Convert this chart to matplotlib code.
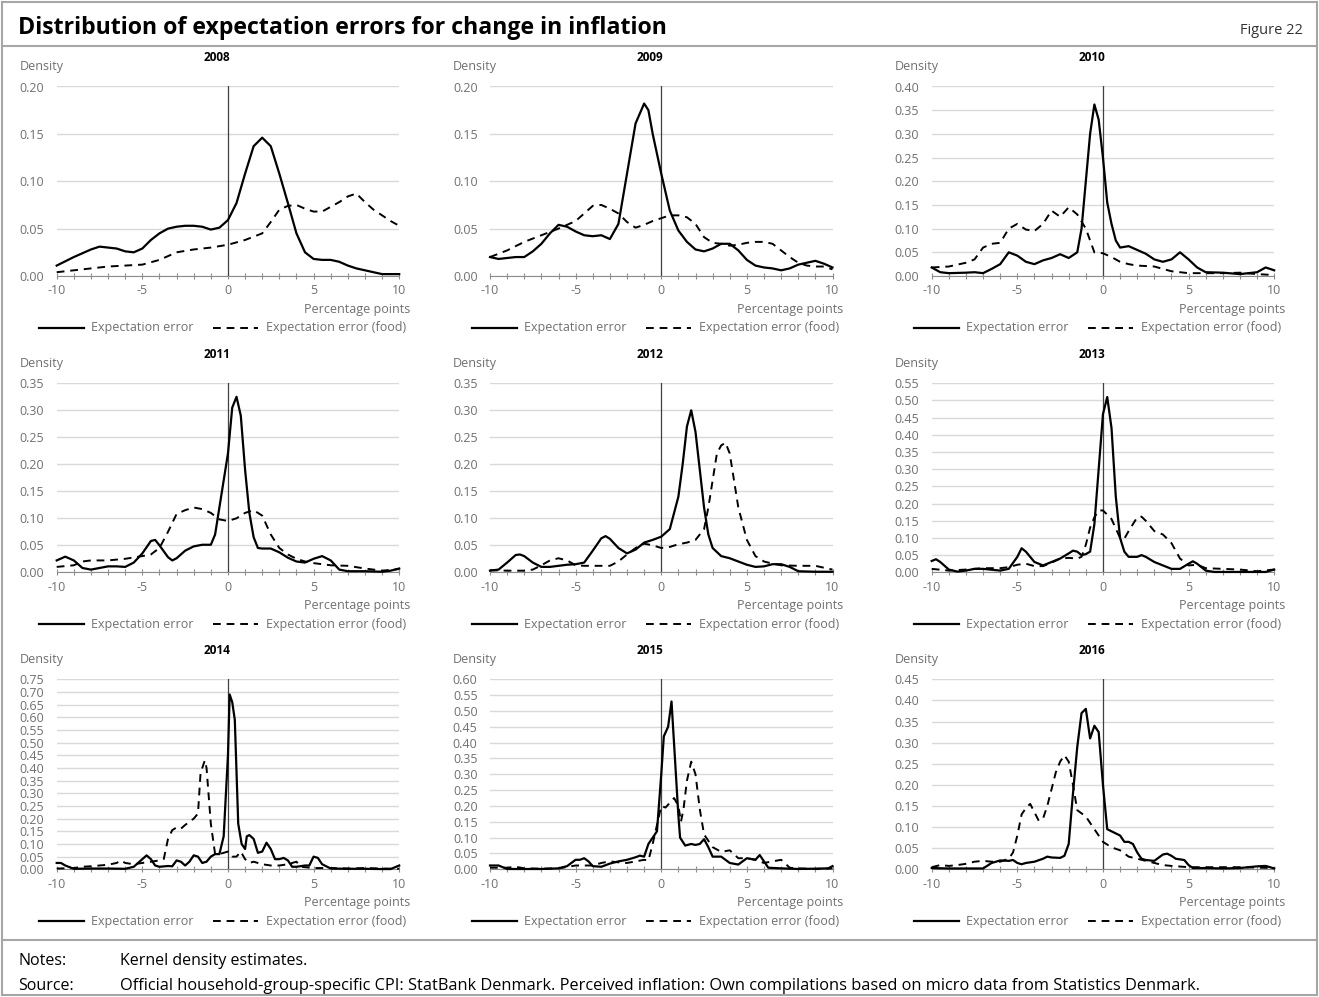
import numpy as np
import matplotlib
matplotlib.use("Agg")
import matplotlib.pyplot as plt
from matplotlib.lines import Line2D

plt.rcParams['font.family'] = ['Open Sans', 'DejaVu Sans']

years = ["2008", "2009", "2010", "2011", "2012", "2013", "2014", "2015", "2016"]
y_tops = [0.20, 0.20, 0.40, 0.35, 0.35, 0.55, 0.75, 0.60, 0.45]
x_ticks = [-10, -5, 0, 5, 10]

# 2008
err_2008_x = [-10, -9, -8, -7.5, -7, -6.5, -6, -5.5, -5, -4.5, -4, -3.5, -3, -2.5, -2, -1.5, -1, -0.5, 0, 0.5, 1, 1.5, 2, 2.5, 3, 3.5, 4, 4.5, 5, 5.5, 6, 6.5, 7, 7.5, 8, 8.5, 9, 9.5, 10]
err_2008_y = [0.011, 0.020, 0.028, 0.031, 0.030, 0.029, 0.026, 0.025, 0.029, 0.038, 0.045, 0.050, 0.052, 0.053, 0.053, 0.052, 0.049, 0.051, 0.059, 0.077, 0.108, 0.137, 0.146, 0.137, 0.108, 0.077, 0.045, 0.025, 0.018, 0.017, 0.017, 0.015, 0.011, 0.008, 0.006, 0.004, 0.002, 0.002, 0.002]
food_2008_x = [-10, -9, -8, -7, -6, -5, -4, -3, -2, -1, 0, 1, 2, 2.5, 3, 3.5, 4, 4.5, 5, 5.5, 6, 6.5, 7, 7.5, 8, 8.5, 9, 9.5, 10]
food_2008_y = [0.004, 0.006, 0.008, 0.010, 0.011, 0.012, 0.017, 0.025, 0.028, 0.030, 0.033, 0.038, 0.045, 0.057, 0.070, 0.074, 0.075, 0.071, 0.068, 0.068, 0.073, 0.078, 0.084, 0.087, 0.078, 0.070, 0.064, 0.058, 0.053]

# 2009
err_2009_x = [-10, -9.5, -9, -8.5, -8, -7.5, -7, -6.5, -6, -5.5, -5, -4.5, -4, -3.5, -3, -2.5, -2, -1.5, -1, -0.75, -0.5, 0, 0.5, 1, 1.5, 2, 2.5, 3, 3.5, 4, 4.5, 5, 5.5, 6, 6.5, 7, 7.5, 8, 8.5, 9, 9.5, 10]
err_2009_y = [0.020, 0.018, 0.019, 0.020, 0.020, 0.026, 0.034, 0.045, 0.054, 0.052, 0.047, 0.043, 0.042, 0.043, 0.039, 0.055, 0.108, 0.161, 0.182, 0.175, 0.150, 0.108, 0.069, 0.048, 0.036, 0.028, 0.026, 0.029, 0.034, 0.034, 0.027, 0.017, 0.011, 0.009, 0.008, 0.006, 0.008, 0.012, 0.014, 0.016, 0.013, 0.009]
food_2009_x = [-10, -9, -8, -7, -6, -5, -4.5, -4, -3.5, -3, -2.5, -2, -1.5, -1, -0.5, 0, 0.5, 1, 1.5, 2, 2.5, 3, 3.5, 4, 4.5, 5, 5.5, 6, 6.5, 7, 7.5, 8, 8.5, 9, 9.5, 10]
food_2009_y = [0.020, 0.027, 0.036, 0.043, 0.050, 0.058, 0.066, 0.074, 0.075, 0.071, 0.066, 0.057, 0.051, 0.054, 0.058, 0.061, 0.064, 0.064, 0.062, 0.055, 0.041, 0.035, 0.034, 0.032, 0.033, 0.035, 0.036, 0.036, 0.034, 0.027, 0.020, 0.014, 0.011, 0.010, 0.010, 0.007]

# 2010
err_2010_x = [-10, -9.5, -9, -8, -7.5, -7, -6.5, -6, -5.5, -5, -4.5, -4, -3.5, -3, -2.5, -2, -1.5, -1.25, -1, -0.75, -0.5, -0.25, 0, 0.25, 0.5, 0.75, 1, 1.5, 2, 2.5, 3, 3.5, 4, 4.5, 5, 5.5, 6, 7, 8, 9, 9.5, 10]
err_2010_y = [0.018, 0.008, 0.006, 0.007, 0.008, 0.006, 0.015, 0.025, 0.050, 0.043, 0.030, 0.025, 0.033, 0.038, 0.046, 0.038, 0.050, 0.100, 0.200, 0.300, 0.362, 0.330, 0.250, 0.155, 0.110, 0.075, 0.060, 0.063, 0.055, 0.047, 0.035, 0.030, 0.035, 0.050, 0.035, 0.018, 0.008, 0.007, 0.004, 0.008, 0.018, 0.012]
food_2010_x = [-10, -9, -8, -7.5, -7, -6.5, -6, -5.5, -5, -4.5, -4, -3.5, -3, -2.5, -2, -1.5, -1, -0.5, 0, 0.5, 1, 1.5, 2, 3, 4, 5, 6, 7, 8, 9, 10]
food_2010_y = [0.018, 0.020, 0.028, 0.035, 0.060, 0.068, 0.070, 0.100, 0.110, 0.098, 0.095, 0.110, 0.138, 0.125, 0.145, 0.130, 0.100, 0.050, 0.048, 0.040, 0.030, 0.025, 0.022, 0.020, 0.010, 0.006, 0.006, 0.006, 0.007, 0.004, 0.002]

# 2011
err_2011_x = [-10, -9.5, -9, -8.5, -8, -7.5, -7, -6.5, -6, -5.5, -5, -4.5, -4.25, -4, -3.5, -3.25, -3, -2.5, -2, -1.5, -1, -0.75, -0.5, 0, 0.25, 0.5, 0.75, 1, 1.25, 1.5, 1.75, 2, 2.5, 3, 3.5, 4, 4.5, 5, 5.5, 6, 6.5, 7, 8, 9, 9.5, 10]
err_2011_y = [0.022, 0.029, 0.022, 0.008, 0.005, 0.008, 0.011, 0.011, 0.010, 0.018, 0.035, 0.058, 0.060, 0.050, 0.028, 0.022, 0.026, 0.040, 0.048, 0.051, 0.051, 0.070, 0.120, 0.220, 0.305, 0.325, 0.290, 0.190, 0.110, 0.065, 0.045, 0.044, 0.044, 0.037, 0.027, 0.020, 0.018, 0.025, 0.030, 0.022, 0.005, 0.002, 0.002, 0.001, 0.003, 0.007]
food_2011_x = [-10, -9, -8.5, -8, -7, -6, -5, -4.5, -4, -3.5, -3, -2.5, -2, -1.5, -1, -0.5, 0, 0.5, 1, 1.5, 2, 2.5, 3, 3.5, 4, 4.5, 5, 6, 7, 8, 9, 10]
food_2011_y = [0.010, 0.013, 0.020, 0.022, 0.022, 0.025, 0.030, 0.033, 0.045, 0.075, 0.108, 0.115, 0.120, 0.117, 0.110, 0.098, 0.095, 0.100, 0.110, 0.115, 0.105, 0.070, 0.045, 0.033, 0.025, 0.020, 0.017, 0.013, 0.012, 0.007, 0.003, 0.006]

# 2012
err_2012_x = [-10, -9.5, -9, -8.5, -8.25, -8, -7.5, -7, -6.5, -6, -5.5, -5, -4.5, -4, -3.5, -3.25, -3, -2.5, -2, -1.5, -1, -0.5, 0, 0.5, 1, 1.25, 1.5, 1.75, 2, 2.25, 2.5, 2.75, 3, 3.5, 4, 4.5, 5, 5.5, 6, 6.5, 7, 7.5, 8, 9, 10]
err_2012_y = [0.003, 0.005, 0.018, 0.032, 0.033, 0.030, 0.018, 0.010, 0.010, 0.012, 0.014, 0.015, 0.018, 0.040, 0.063, 0.067, 0.062, 0.045, 0.035, 0.042, 0.055, 0.060, 0.066, 0.080, 0.140, 0.200, 0.270, 0.300, 0.260, 0.190, 0.120, 0.070, 0.045, 0.030, 0.026, 0.020, 0.014, 0.010, 0.011, 0.015, 0.015, 0.010, 0.002, 0.001, 0.001]
food_2012_x = [-10, -9, -8, -7.5, -7, -6.5, -6, -5.5, -5, -4.5, -4, -3, -2.5, -2, -1.5, -1, -0.5, 0, 0.5, 1, 1.5, 2, 2.5, 2.75, 3, 3.25, 3.5, 3.75, 4, 4.25, 4.5, 5, 5.5, 6, 6.5, 7, 8, 9, 10]
food_2012_y = [0.004, 0.003, 0.003, 0.005, 0.013, 0.022, 0.026, 0.022, 0.013, 0.012, 0.012, 0.012, 0.020, 0.033, 0.045, 0.053, 0.050, 0.045, 0.047, 0.052, 0.055, 0.060, 0.080, 0.120, 0.170, 0.220, 0.235, 0.240, 0.220, 0.170, 0.120, 0.060, 0.030, 0.020, 0.016, 0.013, 0.012, 0.012, 0.005]

# 2013
err_2013_x = [-10, -9.75, -9.5, -9, -8.5, -8, -7.5, -7, -6, -5.5, -5, -4.75, -4.5, -4, -3.5, -3, -2.5, -2, -1.75, -1.5, -1.25, -1, -0.75, -0.5, -0.25, 0, 0.25, 0.5, 0.75, 1, 1.25, 1.5, 2, 2.25, 2.5, 3, 3.5, 4, 4.5, 5, 5.25, 5.5, 6, 6.5, 7, 8, 9, 9.5, 10]
err_2013_y = [0.033, 0.038, 0.030, 0.008, 0.002, 0.005, 0.010, 0.010, 0.005, 0.010, 0.045, 0.070, 0.060, 0.030, 0.020, 0.030, 0.040, 0.055, 0.063, 0.060, 0.050, 0.053, 0.060, 0.140, 0.300, 0.460, 0.510, 0.420, 0.220, 0.100, 0.060, 0.045, 0.045, 0.050, 0.045, 0.030, 0.020, 0.010, 0.010, 0.025, 0.032, 0.025, 0.005, 0.001, 0.001, 0.001, 0.001, 0.001, 0.008]
food_2013_x = [-10, -9, -8, -7, -6, -5.5, -5, -4.5, -4, -3.5, -3, -2.5, -2, -1.5, -1.25, -1, -0.75, -0.5, -0.25, 0, 0.5, 1, 1.25, 1.5, 2, 2.25, 2.5, 3, 3.5, 4, 4.5, 5, 5.5, 6, 7, 8, 9, 10]
food_2013_y = [0.010, 0.005, 0.008, 0.012, 0.012, 0.015, 0.022, 0.025, 0.018, 0.018, 0.028, 0.040, 0.042, 0.040, 0.045, 0.080, 0.130, 0.160, 0.180, 0.180, 0.155, 0.100, 0.098, 0.120, 0.160, 0.162, 0.150, 0.120, 0.110, 0.085, 0.040, 0.020, 0.022, 0.012, 0.010, 0.008, 0.003, 0.008]

# 2014
err_2014_x = [-10, -9.75, -9.5, -9, -8, -7, -6, -5.5, -5, -4.75, -4.5, -4.25, -4, -3.5, -3.25, -3, -2.75, -2.5, -2.25, -2, -1.75, -1.5, -1.25, -1, -0.75, -0.5, -0.25, 0, 0.1, 0.25, 0.4, 0.6, 0.8, 1, 1.1, 1.25, 1.5, 1.75, 2, 2.25, 2.5, 2.75, 3, 3.25, 3.5, 3.75, 4, 4.5, 4.75, 5, 5.25, 5.5, 6, 7, 8, 9, 9.5, 10]
err_2014_y = [0.025, 0.025, 0.015, 0.002, 0.003, 0.003, 0.002, 0.010, 0.040, 0.055, 0.040, 0.015, 0.010, 0.013, 0.012, 0.035, 0.030, 0.015, 0.030, 0.055, 0.050, 0.025, 0.030, 0.050, 0.060, 0.060, 0.130, 0.450, 0.690, 0.660, 0.590, 0.180, 0.100, 0.080, 0.130, 0.135, 0.120, 0.065, 0.070, 0.105, 0.080, 0.040, 0.040, 0.045, 0.035, 0.010, 0.010, 0.015, 0.015, 0.050, 0.045, 0.020, 0.003, 0.002, 0.002, 0.001, 0.001, 0.015]
food_2014_x = [-10, -9, -8.5, -8, -7, -6.5, -6.25, -6, -5.5, -5, -4.5, -4, -3.75, -3.5, -3.25, -3, -2.75, -2.5, -2, -1.75, -1.6, -1.5, -1.35, -1.25, -1, -0.75, -0.5, 0, 0.25, 0.5, 0.75, 1, 1.25, 1.5, 2, 2.5, 3, 3.5, 4, 4.25, 5, 6, 7, 8, 9, 10]
food_2014_y = [0.003, 0.005, 0.010, 0.012, 0.018, 0.025, 0.035, 0.025, 0.020, 0.025, 0.030, 0.035, 0.040, 0.120, 0.155, 0.165, 0.160, 0.175, 0.200, 0.220, 0.380, 0.400, 0.430, 0.400, 0.180, 0.060, 0.060, 0.070, 0.050, 0.050, 0.070, 0.040, 0.025, 0.030, 0.020, 0.015, 0.015, 0.020, 0.030, 0.010, 0.005, 0.005, 0.003, 0.005, 0.003, 0.002]

# 2015
err_2015_x = [-10, -9.5, -9, -8, -7, -6, -5.5, -5, -4.75, -4.5, -4.25, -4, -3.5, -3, -2.5, -2, -1.5, -1.25, -1, -0.75, -0.5, -0.25, 0, 0.15, 0.4, 0.6, 0.8, 1, 1.1, 1.4, 1.75, 2, 2.25, 2.5, 2.75, 3, 3.5, 4, 4.5, 5, 5.5, 5.75, 6, 6.25, 7, 8, 9, 9.75, 10]
err_2015_y = [0.012, 0.012, 0.001, 0.001, 0.001, 0.003, 0.010, 0.030, 0.030, 0.035, 0.025, 0.010, 0.008, 0.018, 0.025, 0.030, 0.038, 0.043, 0.040, 0.080, 0.100, 0.120, 0.300, 0.420, 0.450, 0.530, 0.350, 0.170, 0.100, 0.075, 0.080, 0.077, 0.080, 0.095, 0.070, 0.040, 0.040, 0.020, 0.015, 0.035, 0.030, 0.045, 0.025, 0.005, 0.003, 0.001, 0.002, 0.003, 0.010]
food_2015_x = [-10, -9, -8.5, -8, -7, -6, -5, -4, -3.5, -3, -2.5, -2, -1.5, -1, -0.75, -0.5, -0.25, 0, 0.25, 0.5, 0.75, 1, 1.15, 1.3, 1.5, 1.75, 2, 2.25, 2.5, 3, 3.5, 4, 4.5, 5, 5.5, 6, 6.5, 7, 7.5, 8, 9, 10]
food_2015_y = [0.005, 0.005, 0.008, 0.003, 0.002, 0.003, 0.012, 0.012, 0.020, 0.025, 0.022, 0.020, 0.025, 0.030, 0.028, 0.080, 0.140, 0.200, 0.195, 0.210, 0.225, 0.200, 0.150, 0.190, 0.280, 0.340, 0.300, 0.190, 0.110, 0.070, 0.055, 0.060, 0.035, 0.035, 0.030, 0.020, 0.025, 0.030, 0.005, 0.003, 0.001, 0.003]

# 2016
err_2016_x = [-10, -9, -8, -7, -6.5, -6, -5.5, -5.25, -5, -4.75, -4.5, -4, -3.5, -3.25, -3, -2.5, -2.25, -2, -1.75, -1.5, -1.25, -1, -0.75, -0.5, -0.25, 0, 0.25, 0.5, 1, 1.25, 1.5, 1.75, 2, 2.25, 2.5, 3, 3.5, 3.75, 4, 4.25, 4.75, 5, 5.25, 6, 7, 8, 9, 9.5, 10]
err_2016_y = [0.003, 0.002, 0.002, 0.002, 0.015, 0.021, 0.020, 0.022, 0.015, 0.012, 0.015, 0.018, 0.025, 0.030, 0.028, 0.027, 0.032, 0.060, 0.180, 0.290, 0.370, 0.380, 0.310, 0.340, 0.325, 0.200, 0.095, 0.090, 0.080, 0.065, 0.065, 0.060, 0.040, 0.025, 0.022, 0.020, 0.035, 0.037, 0.032, 0.025, 0.022, 0.010, 0.003, 0.003, 0.002, 0.003, 0.007, 0.008, 0.002]
food_2016_x = [-10, -9.5, -9, -8.5, -8, -7.5, -7, -6.5, -6, -5.5, -5.25, -5, -4.75, -4.5, -4.25, -4, -3.75, -3.5, -3.25, -3, -2.75, -2.5, -2.25, -2, -1.75, -1.5, -1, -0.5, 0, 0.5, 1, 1.5, 2, 2.5, 3, 3.5, 4, 5, 6, 7, 8, 9, 10]
food_2016_y = [0.005, 0.010, 0.008, 0.010, 0.013, 0.018, 0.020, 0.018, 0.018, 0.025, 0.040, 0.080, 0.130, 0.145, 0.155, 0.135, 0.115, 0.120, 0.150, 0.190, 0.230, 0.255, 0.270, 0.255, 0.200, 0.140, 0.125, 0.095, 0.065, 0.052, 0.045, 0.030, 0.025, 0.020, 0.015, 0.010, 0.008, 0.005, 0.005, 0.005, 0.005, 0.004, 0.003]

err_x = [err_2008_x, err_2009_x, err_2010_x, err_2011_x, err_2012_x, err_2013_x, err_2014_x, err_2015_x, err_2016_x]
err_y = [err_2008_y, err_2009_y, err_2010_y, err_2011_y, err_2012_y, err_2013_y, err_2014_y, err_2015_y, err_2016_y]
food_x = [food_2008_x, food_2009_x, food_2010_x, food_2011_x, food_2012_x, food_2013_x, food_2014_x, food_2015_x, food_2016_x]
food_y = [food_2008_y, food_2009_y, food_2010_y, food_2011_y, food_2012_y, food_2013_y, food_2014_y, food_2015_y, food_2016_y]

W, H = 1319, 997
fig = plt.figure(figsize=(W / 100, H / 100), dpi=100)

def fx(px):
    return px / W

def fy(py):
    return 1 - py / H

grey = '#707070'
dash = (0, (4, 3))

# frame and title bar
border = '#a6a6a6'
for x0, y0, x1, y1 in [(2, 2, 1317, 2), (2, 995, 1317, 995), (2, 2, 2, 995), (1317, 2, 1317, 995), (2, 46, 1317, 46), (2, 940, 1317, 940)]:
    fig.add_artist(Line2D([fx(x0), fx(x1)], [fy(y0), fy(y1)], color=border, lw=1.5))
fig.text(fx(18), fy(28), "Distribution of expectation errors for change in inflation", fontsize=16.7, fontweight='bold', va='center', ha='left')
fig.text(fx(1303), fy(30), "Figure 22", fontsize=10.5, va='center', ha='right', color='#333333')
fig.text(fx(18), fy(961), "Notes:", fontsize=11.5, va='center')
fig.text(fx(120), fy(961), "Kernel density estimates.", fontsize=11.5, va='center')
fig.text(fx(18), fy(986), "Source:", fontsize=11.5, va='center')
fig.text(fx(120), fy(986), "Official household-group-specific CPI: StatBank Denmark. Perceived inflation: Own compilations based on micro data from Statistics Denmark.", fontsize=11.8, va='center')

col_left = [56.7, 490, 931.7]
col_w = 342.5
rows = [(86.5, 276), (383.3, 572.3), (679.3, 869.3)]

for i, yr in enumerate(years):
    r, c = divmod(i, 3)
    top, bot = rows[r]
    left = col_left[c]
    ax = fig.add_axes([fx(left), fy(bot), fx(col_w), (bot - top) / H])
    ax.set_xlim(-10, 10)
    ax.set_ylim(0, y_tops[i])
    yt = np.arange(0, y_tops[i] + 0.001, 0.05)
    ax.set_yticks(yt)
    ax.set_yticklabels([f"{v:.2f}" for v in yt])
    ax.set_xticks(range(-10, 11))
    ax.set_xticklabels([str(v) if v in x_ticks else "" for v in range(-10, 11)])
    ax.grid(axis='y', color='#d9d9d9', lw=1)
    ax.set_axisbelow(True)
    for s in ['top', 'right', 'left']:
        ax.spines[s].set_visible(False)
    ax.spines['bottom'].set_color('#8c8c8c')
    ax.tick_params(axis='y', length=0, labelsize=9, labelcolor=grey, pad=9)
    ax.tick_params(axis='x', length=4, direction='inout', color='#8c8c8c', labelsize=9, labelcolor=grey, pad=4)
    ax.axvline(0, color='#404040', lw=0.9, zorder=2)
    ax.plot(food_x[i], food_y[i], color='black', lw=1.4, linestyle=dash, zorder=3, clip_on=False)
    ax.plot(err_x[i], err_y[i], color='black', lw=1.6, zorder=4, clip_on=False)

    # panel texts
    cx = left + col_w / 2 - 11
    fig.text(fx(cx), fy(top - 29), yr, fontsize=8.5, fontweight='bold', ha='center', va='center')
    fig.text(fx(left - 37), fy(top - 20), "Density", fontsize=9, color=grey, ha='left', va='center')
    fig.text(fx(left + col_w + 11), fy(bot + 33), "Percentage points", fontsize=9, color=grey, ha='right', va='center')
    ly = fy(bot + 52)
    fig.add_artist(Line2D([fx(left - 18), fx(left + 27)], [ly, ly], color='black', lw=1.6))
    fig.text(fx(left + 34), ly, "Expectation error", fontsize=9, color=grey, ha='left', va='center')
    fig.add_artist(Line2D([fx(left + 156), fx(left + 201)], [ly, ly], color='black', lw=1.4, linestyle=dash))
    fig.text(fx(left + 209), ly, "Expectation error (food)", fontsize=9, color=grey, ha='left', va='center')

fig.savefig("out.png", dpi=100)
